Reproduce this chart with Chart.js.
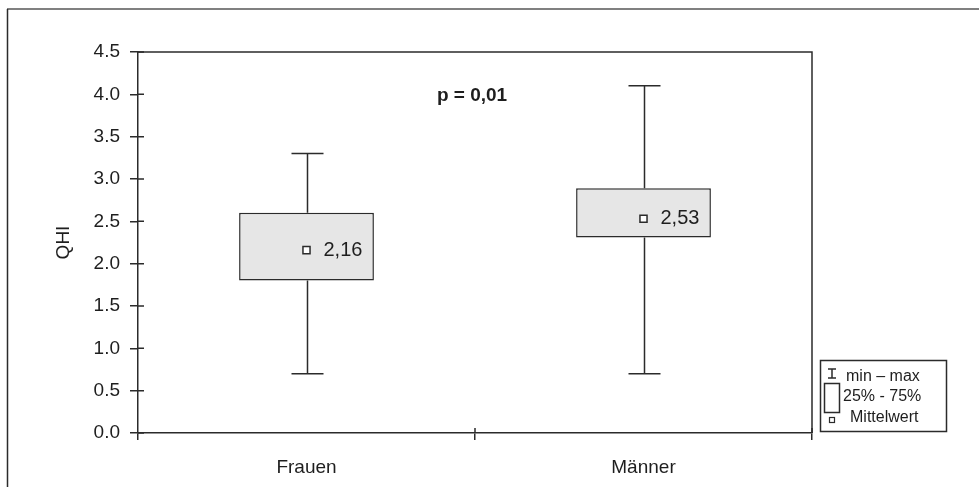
<!DOCTYPE html>
<html>
<head>
<meta charset="utf-8">
<script src="https://cdn.jsdelivr.net/npm/chart.js@4"></script>
<style>
    html, body { margin: 0; padding: 0; background: #fff; }
    #wrap { width: 979px; height: 487px; }
</style>
</head>
<body>
<div id="wrap"><canvas id="qhiChart" width="979" height="487"></canvas></div>
<script>
// Daten fuer den Boxplot
const categories = ['Frauen', 'Männer'];
const minValues = [0.7, 0.7];
const q1Values = [1.8, 2.31];
const q3Values = [2.6, 2.89];
const maxValues = [3.3, 4.1];
const meanValues = [2.16, 2.53];
const meanLabels = ['2,16', '2,53'];
const pLabel = 'p = 0,01';
const legendLabels = ['min – max', '25% - 75%', 'Mittelwert'];

const dark = '#2b2b2b';
const fontFamily = 'Arial, "Liberation Sans", sans-serif';

// Plugin fuer Rahmen, Whisker, Beschriftungen und Legende
const boxExtras = {
    id: 'boxExtras',
    beforeDraw(chart) {
        const ctx = chart.ctx;
        ctx.save();
        ctx.fillStyle = '#fff';
        ctx.fillRect(0, 0, chart.width, chart.height);
        // Bildrahmen
        ctx.strokeStyle = '#808080';
        ctx.lineWidth = 2;
        ctx.beginPath();
        ctx.moveTo(7, 9);
        ctx.lineTo(chart.width, 9);
        ctx.stroke();
        ctx.strokeStyle = dark;
        ctx.lineWidth = 1.5;
        ctx.beginPath();
        ctx.moveTo(7.5, 9);
        ctx.lineTo(7.5, chart.height);
        ctx.stroke();
        ctx.restore();
    },
    beforeDatasetsDraw(chart) {
        const ctx = chart.ctx;
        const x = chart.scales.x;
        const y = chart.scales.y;
        ctx.save();
        ctx.strokeStyle = dark;
        ctx.lineWidth = 1.5;
        for (let i = 0; i < categories.length; i++) {
            const cx = Math.round(x.getPixelForValue(i)) + 0.5;
            const yMax = y.getPixelForValue(maxValues[i]);
            const yQ3 = y.getPixelForValue(q3Values[i]);
            const yQ1 = y.getPixelForValue(q1Values[i]);
            const yMin = y.getPixelForValue(minValues[i]);
            ctx.beginPath();
            ctx.moveTo(cx, yMax); ctx.lineTo(cx, yQ3);
            ctx.moveTo(cx, yQ1); ctx.lineTo(cx, yMin);
            ctx.moveTo(cx - 16, yMax); ctx.lineTo(cx + 16, yMax);
            ctx.moveTo(cx - 16, yMin); ctx.lineTo(cx + 16, yMin);
            ctx.stroke();
        }
        ctx.restore();
    },
    afterDraw(chart) {
        const ctx = chart.ctx;
        const area = chart.chartArea;
        const x = chart.scales.x;
        const y = chart.scales.y;
        ctx.save();
        ctx.strokeStyle = dark;
        ctx.lineWidth = 1.5;

        // Rahmen oben und rechts
        ctx.beginPath();
        ctx.moveTo(area.left, area.top);
        ctx.lineTo(area.right, area.top);
        ctx.lineTo(area.right, area.bottom);
        ctx.stroke();

        // Ticks nach innen
        ctx.beginPath();
        y.ticks.forEach((t, i) => {
            const py = y.getPixelForTick(i);
            ctx.moveTo(area.left, py);
            ctx.lineTo(area.left + 6, py);
        });
        [0.5, 1.5].forEach(v => {
            const px = x.getPixelForValue(v);
            ctx.moveTo(px, area.bottom);
            ctx.lineTo(px, area.bottom - 5);
        });
        ctx.stroke();

        // Mittelwert-Beschriftung
        ctx.fillStyle = '#1e1e1e';
        ctx.font = '20px ' + fontFamily;
        ctx.textAlign = 'left';
        ctx.textBaseline = 'middle';
        for (let i = 0; i < categories.length; i++) {
            ctx.fillText(meanLabels[i], x.getPixelForValue(i) + 17, y.getPixelForValue(meanValues[i]));
        }

        // p-Wert
        ctx.font = 'bold 19px ' + fontFamily;
        ctx.textAlign = 'center';
        ctx.fillText(pLabel, (area.left + area.right) / 2 - 3, area.top + 44);

        // Legende
        const lx = area.right + 8;
        const ly = 360;
        ctx.lineWidth = 1.5;
        ctx.strokeRect(lx + 0.5, ly + 0.5, 126, 71);
        ctx.beginPath();
        ctx.moveTo(lx + 12, ly + 9); ctx.lineTo(lx + 12, ly + 18);
        ctx.moveTo(lx + 8, ly + 9); ctx.lineTo(lx + 16, ly + 9);
        ctx.moveTo(lx + 8, ly + 18); ctx.lineTo(lx + 16, ly + 18);
        ctx.stroke();
        ctx.fillStyle = '#fff';
        ctx.fillRect(lx + 4, ly + 23, 15, 29);
        ctx.strokeRect(lx + 4.5, ly + 23.5, 15, 29);
        ctx.lineWidth = 1.2;
        ctx.strokeRect(lx + 9.5, ly + 57.5, 5, 5);
        ctx.fillStyle = '#1e1e1e';
        ctx.font = '16px ' + fontFamily;
        ctx.textAlign = 'left';
        ctx.fillText(legendLabels[0], lx + 26, ly + 17);
        ctx.fillText(legendLabels[1], lx + 23, ly + 37);
        ctx.fillText(legendLabels[2], lx + 30, ly + 58);
        ctx.restore();
    }
};

const ctx = document.getElementById('qhiChart').getContext('2d');
const qhiChart = new Chart(ctx, {
    data: {
        labels: categories,
        datasets: [
            {
                type: 'bar',
                data: categories.map((c, i) => [q1Values[i], q3Values[i]]),
                backgroundColor: '#e6e6e6',
                borderColor: dark,
                borderWidth: 1.5,
                borderSkipped: false,
                barPercentage: 0.4,
                categoryPercentage: 1.0,
                order: 2
            },
            {
                type: 'line',
                data: meanValues,
                showLine: false,
                pointStyle: 'rect',
                pointRadius: 5,
                pointBackgroundColor: '#fff',
                pointBorderColor: dark,
                pointBorderWidth: 1.5,
                order: 1
            }
        ]
    },
    options: {
        responsive: false,
        animation: false,
        devicePixelRatio: 1,
        layout: {
            padding: { left: 0, top: 52, right: 167, bottom: 0 }
        },
        plugins: {
            legend: { display: false },
            tooltip: { enabled: false }
        },
        scales: {
            x: {
                offset: true,
                grid: {
                    offset: true,
                    drawOnChartArea: false,
                    drawTicks: true,
                    tickLength: 7,
                    color: dark,
                    lineWidth: 1.5
                },
                border: { display: true, color: dark, width: 1.5 },
                ticks: {
                    color: '#1e1e1e',
                    padding: 16,
                    font: { family: fontFamily, size: 19 }
                },
                afterFit: scale => { scale.height = 54; }
            },
            y: {
                min: 0,
                max: 4.5,
                grid: {
                    drawOnChartArea: false,
                    drawTicks: true,
                    tickLength: 8,
                    color: dark,
                    lineWidth: 1.5
                },
                border: { display: true, color: dark, width: 1.5 },
                ticks: {
                    stepSize: 0.5,
                    color: '#1e1e1e',
                    padding: 10,
                    font: { family: fontFamily, size: 19 },
                    callback: v => v.toFixed(1)
                },
                title: {
                    display: true,
                    text: 'QHI',
                    color: '#1e1e1e',
                    font: { family: fontFamily, size: 19 },
                    padding: { top: 52, bottom: 0 }
                },
                afterFit: scale => { scale.width = 138; }
            }
        }
    },
    plugins: [boxExtras]
});
</script>
</body>
</html>
